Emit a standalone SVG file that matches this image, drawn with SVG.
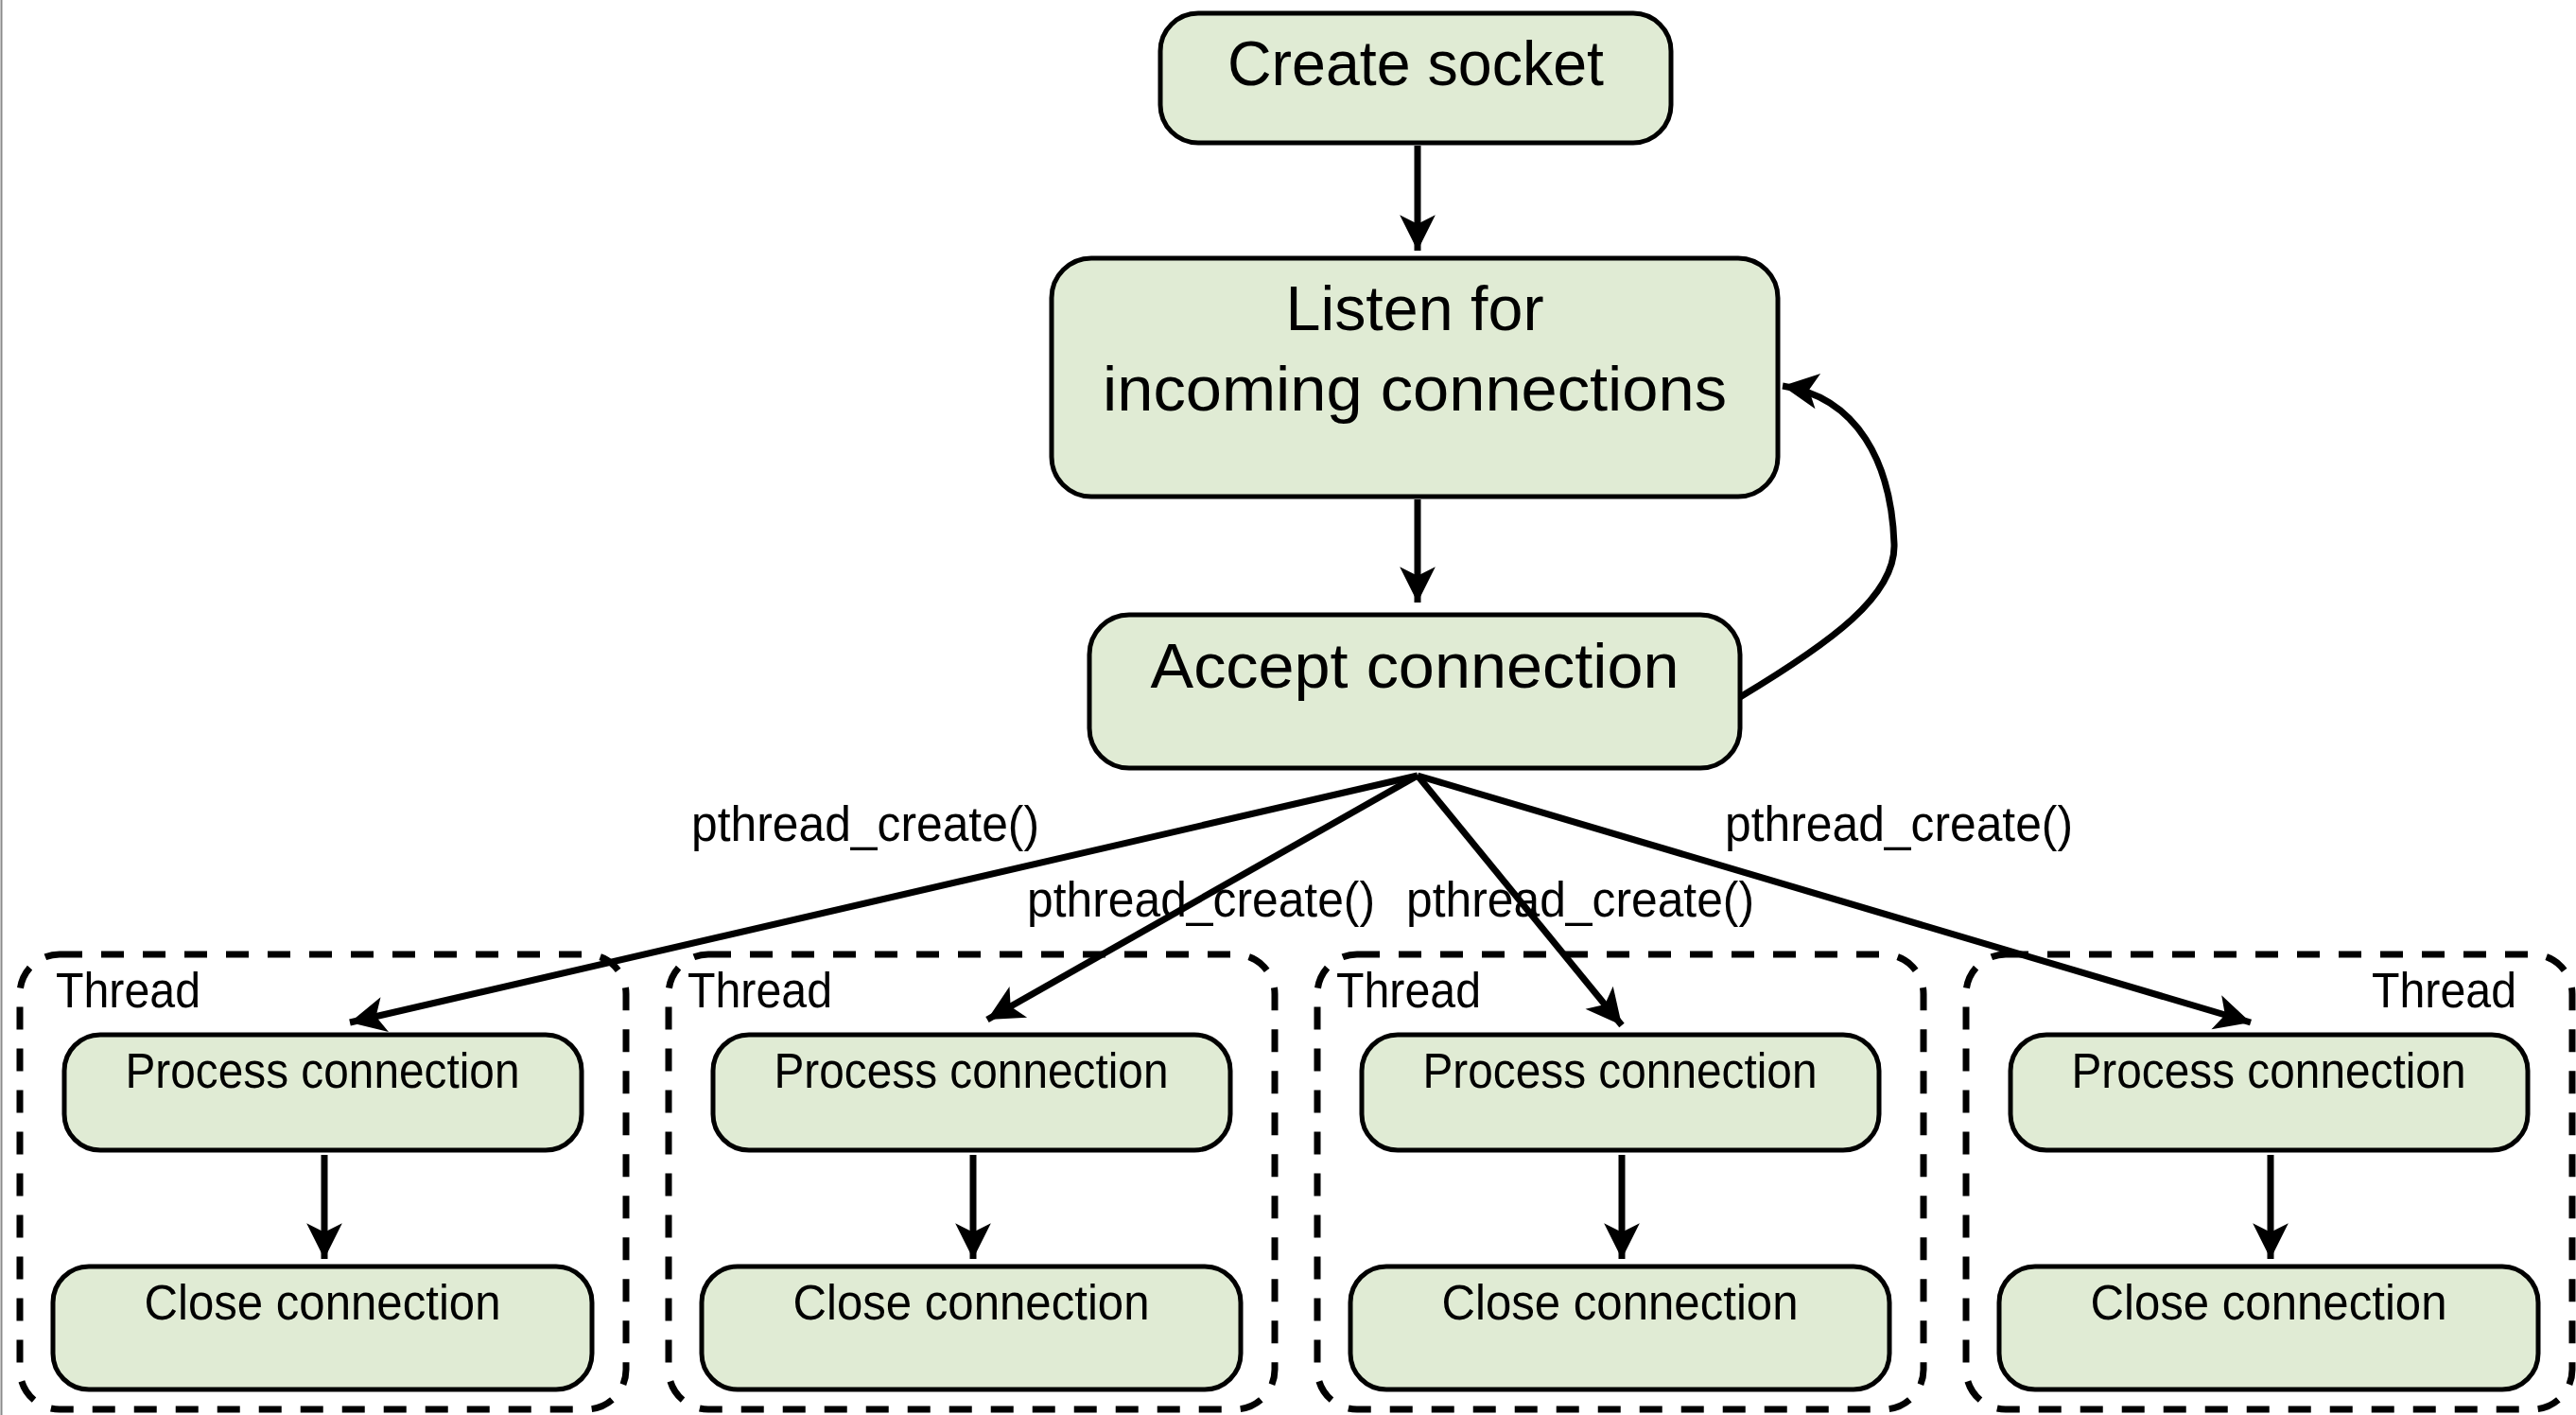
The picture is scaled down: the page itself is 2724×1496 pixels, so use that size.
<svg xmlns="http://www.w3.org/2000/svg" width="2724" height="1496" viewBox="0 0 2724 1496">
  <style>
    .node { fill: #e0ebd4; stroke: #000; stroke-width: 5; }
    .thread { fill: none; stroke: #000; stroke-width: 7; stroke-dasharray: 24 20; }
    .big { font-family: "Liberation Sans", Arial, sans-serif; font-size: 66px; fill: #000; text-anchor: middle; }
    .mid { font-family: "Liberation Sans", Arial, sans-serif; font-size: 51px; fill: #000; text-anchor: middle; }
    .lbl { font-family: "Liberation Sans", Arial, sans-serif; font-size: 51px; fill: #000; }
    .edge { fill: none; stroke: #000; stroke-width: 7; marker-end: url(#arrow); }
  </style>
  <defs>
    <marker id="arrow" markerUnits="userSpaceOnUse" markerWidth="44" markerHeight="44" viewBox="-38 -20 42 40" refX="0" refY="0" orient="auto">
      <path d="M0,0 L-36,-18 L-27,0 L-36,18 Z" fill="#000"/>
    </marker>
  </defs>

  <rect width="2724" height="1496" fill="#fff"/>
  <line x1="1.5" y1="0" x2="1.5" y2="1496" stroke="#8a8a8a" stroke-width="2"/>

  <!-- thread containers -->
  <g id="thread-1"><rect class="thread" x="21" y="1009" width="641" height="481" rx="42"/><text class="lbl" x="59" y="1065" textLength="153" lengthAdjust="spacingAndGlyphs">Thread</text></g>
  <g id="thread-2"><rect class="thread" x="707" y="1009" width="641" height="481" rx="42"/><text class="lbl" x="727" y="1065" textLength="153" lengthAdjust="spacingAndGlyphs">Thread</text></g>
  <g id="thread-3"><rect class="thread" x="1393" y="1009" width="641" height="481" rx="42"/><text class="lbl" x="1413" y="1065" textLength="153" lengthAdjust="spacingAndGlyphs">Thread</text></g>
  <g id="thread-4"><rect class="thread" x="2079" y="1009" width="641" height="481" rx="42"/><text class="lbl" x="2508" y="1065" textLength="153" lengthAdjust="spacingAndGlyphs">Thread</text></g>

  <!-- connectors -->
  <g id="connectors">
    <text class="lbl" x="731" y="889" textLength="368" lengthAdjust="spacingAndGlyphs">pthread_create()</text>
    <text class="lbl" x="1086" y="969" textLength="368" lengthAdjust="spacingAndGlyphs">pthread_create()</text>
    <text class="lbl" x="1487" y="969" textLength="368" lengthAdjust="spacingAndGlyphs">pthread_create()</text>
    <text class="lbl" x="1824" y="889" textLength="368" lengthAdjust="spacingAndGlyphs">pthread_create()</text>

    <line class="edge" x1="1499" y1="154" x2="1499" y2="265"/>
    <line class="edge" x1="1499" y1="528" x2="1499" y2="637"/>
    <path class="edge" d="M1840,737 C1935,680 2005,630 2003,575 C2000,490 1965,420 1885,408"/>

    <line class="edge" x1="1499" y1="820" x2="370" y2="1081"/>
    <line class="edge" x1="1499" y1="820" x2="1044" y2="1078"/>
    <line class="edge" x1="1499" y1="820" x2="1715" y2="1084"/>
    <line class="edge" x1="1499" y1="820" x2="2380" y2="1081"/>

    <line class="edge" x1="343" y1="1221" x2="343" y2="1331"/>
    <line class="edge" x1="1029" y1="1221" x2="1029" y2="1331"/>
    <line class="edge" x1="1715" y1="1221" x2="1715" y2="1331"/>
    <line class="edge" x1="2401" y1="1221" x2="2401" y2="1331"/>
  </g>

  <!-- main flow -->
  <g id="create-socket"><rect class="node" x="1227" y="14" width="540" height="137" rx="40"/><text class="big" x="1497" y="90" textLength="398" lengthAdjust="spacingAndGlyphs">Create socket</text></g>
  <g id="listen"><rect class="node" x="1112" y="273" width="768" height="252" rx="42"/><text class="big" x="1496" y="349" textLength="273" lengthAdjust="spacingAndGlyphs">Listen for</text><text class="big" x="1496" y="434" textLength="660" lengthAdjust="spacingAndGlyphs">incoming connections</text></g>
  <g id="accept"><rect class="node" x="1152" y="650" width="688" height="162" rx="42"/><text class="big" x="1496" y="727" textLength="559" lengthAdjust="spacingAndGlyphs">Accept connection</text></g>

  <!-- per-thread work -->
  <g id="process-1"><rect class="node" x="68" y="1094" width="547" height="122" rx="38"/><text class="mid" x="341" y="1150" textLength="417" lengthAdjust="spacingAndGlyphs">Process connection</text></g>
  <g id="close-1"><rect class="node" x="56" y="1339" width="570" height="130" rx="38"/><text class="mid" x="341" y="1395" textLength="377" lengthAdjust="spacingAndGlyphs">Close connection</text></g>
  <g id="process-2"><rect class="node" x="754" y="1094" width="547" height="122" rx="38"/><text class="mid" x="1027" y="1150" textLength="417" lengthAdjust="spacingAndGlyphs">Process connection</text></g>
  <g id="close-2"><rect class="node" x="742" y="1339" width="570" height="130" rx="38"/><text class="mid" x="1027" y="1395" textLength="377" lengthAdjust="spacingAndGlyphs">Close connection</text></g>
  <g id="process-3"><rect class="node" x="1440" y="1094" width="547" height="122" rx="38"/><text class="mid" x="1713" y="1150" textLength="417" lengthAdjust="spacingAndGlyphs">Process connection</text></g>
  <g id="close-3"><rect class="node" x="1428" y="1339" width="570" height="130" rx="38"/><text class="mid" x="1713" y="1395" textLength="377" lengthAdjust="spacingAndGlyphs">Close connection</text></g>
  <g id="process-4"><rect class="node" x="2126" y="1094" width="547" height="122" rx="38"/><text class="mid" x="2399" y="1150" textLength="417" lengthAdjust="spacingAndGlyphs">Process connection</text></g>
  <g id="close-4"><rect class="node" x="2114" y="1339" width="570" height="130" rx="38"/><text class="mid" x="2399" y="1395" textLength="377" lengthAdjust="spacingAndGlyphs">Close connection</text></g>
</svg>
